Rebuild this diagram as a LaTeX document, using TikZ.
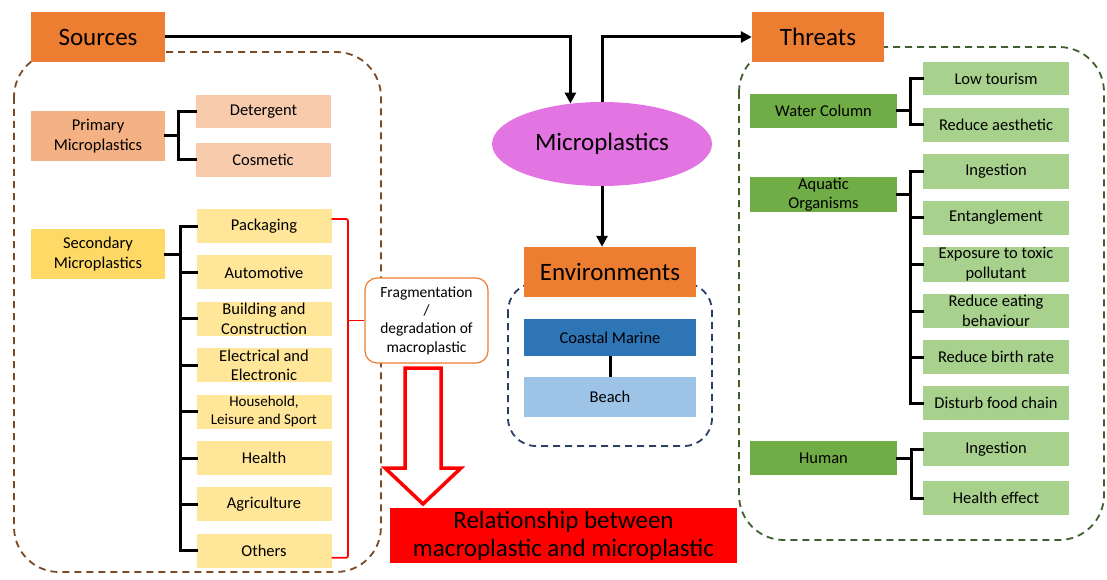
\documentclass[tikz,border=0pt]{standalone}
\usepackage{fontspec}
\setmainfont{Carlito}
\usepackage{xcolor}
\usepackage{tikz}
\usetikzlibrary{arrows.meta, shapes.geometric, positioning}

\definecolor{orgT}{HTML}{ED7D31}
\definecolor{primC}{HTML}{F4B183}
\definecolor{primL}{HTML}{F8CBAD}
\definecolor{secC}{HTML}{FFD966}
\definecolor{secL}{HTML}{FFE699}
\definecolor{microC}{HTML}{E275E2}
\definecolor{coastC}{HTML}{2E75B6}
\definecolor{beachC}{HTML}{9DC3E6}
\definecolor{thrC}{HTML}{70AD47}
\definecolor{thrL}{HTML}{A9D18E}
\definecolor{srcFrame}{HTML}{7B4A26}
\definecolor{envFrame}{HTML}{2A3F66}
\definecolor{thrFrame}{HTML}{3F5F2E}

\begin{document}
\begin{tikzpicture}[
  x=1pt, y=-1pt,
  node distance=12pt and 30pt,
  title/.style  = {rectangle, fill=orgT, minimum width=134pt, minimum height=50pt,
                   inner sep=1pt, font=\fontsize{25}{30}\selectfont},
  group/.style  = {rectangle, minimum width=134pt, minimum height=50pt, align=center,
                   inner sep=1pt, font=\fontsize{16.5}{19.5}\selectfont},
  leaf/.style   = {rectangle, minimum width=135pt, minimum height=34pt, align=center,
                   inner sep=1pt, font=\fontsize{16.5}{19.5}\selectfont},
  tleaf/.style  = {leaf, fill=thrL, minimum width=146pt},
  tgroup/.style = {leaf, fill=thrC, minimum width=147pt},
  envbox/.style = {rectangle, minimum width=172pt, minimum height=37pt,
                   inner sep=1pt, font=\fontsize{16.5}{19.5}\selectfont},
  frame/.style  = {dashed, dash pattern=on 7pt off 5pt, line width=1.8pt, rounded corners=45pt},
  tree/.style   = {line width=3pt, line cap=rect},
  arrow/.style  = {-{Triangle[length=11pt,width=11pt]}, line width=3pt},
  redline/.style= {red, line width=1.7pt}
]
\useasboundingbox (0,0) rectangle (1107,580);

% dashed frames
\draw[frame, srcFrame] (14,52) rectangle (381,572);
\draw[frame, thrFrame] (739,47) rectangle (1104,540);
\draw[frame, envFrame, rounded corners=28pt] (508,283) rectangle (712,446);

% main chain
\node[title] (src) at (98,37) {Sources};
\node[title, minimum width=132pt] (thr) at (818,37) {Threats};
\node[ellipse, fill=microC, minimum width=220pt, minimum height=84pt,
      font=\fontsize{25}{30}\selectfont] (micro) at (602,144) {Microplastics};
\node[title, minimum width=172pt] (env) at (610,272) {Environments};

\node[envbox, fill=coastC] (coast) at (610,337.5) {Coastal Marine};
\node[envbox, fill=beachC, minimum height=40pt] (beach) at (610,397) {Beach};

\draw[arrow] (src.east) -| (micro.128);
\draw[arrow] (micro.north) |- (thr.west);
\draw[arrow] (micro.south) -- (micro.south |- env.north);
\draw[line width=3pt] (coast) -- (beach);

% sources
\node[group, fill=primC] (prim) at (98,136) {Primary\\Microplastics};
\node[leaf, fill=primL, minimum height=33pt] (det) at (263.5,111.5) {Detergent};
\node[leaf, fill=primL] (cos) at (263,160) {Cosmetic};

\node[group, fill=secC] (sec) at (98,254) {Secondary\\Microplastics};
\node[leaf, fill=secL] (pack) at (264,226) {Packaging};
\node[leaf, fill=secL, below=of pack] (auto) {Automotive};
\node[leaf, fill=secL, below=of auto] (bldg) {Building and\\Construction};
\node[leaf, fill=secL, below=of bldg] (elec) {Electrical and\\Electronic};
\node[leaf, fill=secL, below=of elec, font=\fontsize{15}{18}\selectfont] (hous)
  {Household,\\Leisure and Sport};
\node[leaf, fill=secL, below=of hous] (hlth) {Health};
\node[leaf, fill=secL, below=of hlth] (agri) {Agriculture};
\node[leaf, fill=secL, below=of agri] (oth) {Others};

\draw[tree] (prim.east) -- ++(13,0) coordinate (pj);
\draw[tree] (det.west) -| (pj) |- (cos.west);
\draw[tree] (sec.east) -- ++(15,0) coordinate (sj);
\draw[tree] (pack.west) -| (sj) |- (oth.west);
\foreach \k in {auto,bldg,elec,hous,hlth,agri}
  \draw[tree] (\k.west) -- (sj |- \k.west);

% fragmentation
\node[rectangle, rounded corners=12pt, draw=orgT, line width=1.2pt, fill=white,
      minimum width=123pt, minimum height=85pt, align=center,
      font=\fontsize{15.5}{18.3}\selectfont] (frag) at (426.5,320.5)
  {Fragmentation\\/\\degradation of\\macroplastic};
\coordinate (bx) at (348,0);
\draw[redline, rounded corners=2pt] ([yshift=7pt]pack.east) -| (bx |- frag.west)
  |- ([yshift=-7pt]oth.east);
\draw[redline] (bx |- frag.west) -- (frag.west);

\node[rectangle, fill=red, minimum width=347pt, minimum height=55pt, inner sep=1pt,
      align=center, font=\fontsize{25}{28}\selectfont] (rel) at (563.5,535.5)
  {Relationship between\\macroplastic and microplastic};
\draw[red, line width=3.5pt, fill=white, line join=miter]
  (405,368) -- (441,368) -- (441,468) -- (461,468) -- (423,504)
  -- (385,468) -- (405,468) -- cycle;

% threats
\node[tgroup] (wcol) at (823.5,111) {Water Column};
\node[tleaf, minimum height=33pt] (tour) at (996,78.5) {Low tourism};
\node[tleaf] (aest) at (996,125) {Reduce aesthetic};

\node[tgroup] (aqua) at (823.5,194.5) {Aquatic\\Organisms};
\node[tleaf] (ing) at (996,171.5) {Ingestion};
\node[tleaf, below=11.6pt of ing] (ent) {Entanglement};
\node[tleaf, below=11.6pt of ent] (tox) {Exposure to toxic\\pollutant};
\node[tleaf, below=11.6pt of tox] (eat) {Reduce eating\\behaviour};
\node[tleaf, below=11.6pt of eat] (birth) {Reduce birth rate};
\node[tleaf, below=11.6pt of birth] (food) {Disturb food chain};

\node[tgroup] (hum) at (823.5,458) {Human};
\node[tleaf] (ing2) at (996,449) {Ingestion};
\node[tleaf] (heff) at (996,498) {Health effect};

\draw[tree] (wcol.east) -- ++(13,0) coordinate (wj);
\draw[tree] (tour.west) -| (wj) |- (aest.west);
\draw[tree] (aqua.east) -- ++(13,0) coordinate (aj);
\draw[tree] (ing.west) -| (aj) |- (food.west);
\foreach \k in {ent,tox,eat,birth}
  \draw[tree] (\k.west) -- (aj |- \k.west);
\draw[tree] (hum.east) -- ++(14,0) coordinate (hj);
\draw[tree] (ing2.west) -| (hj) |- (heff.west);

\end{tikzpicture}
\end{document}
